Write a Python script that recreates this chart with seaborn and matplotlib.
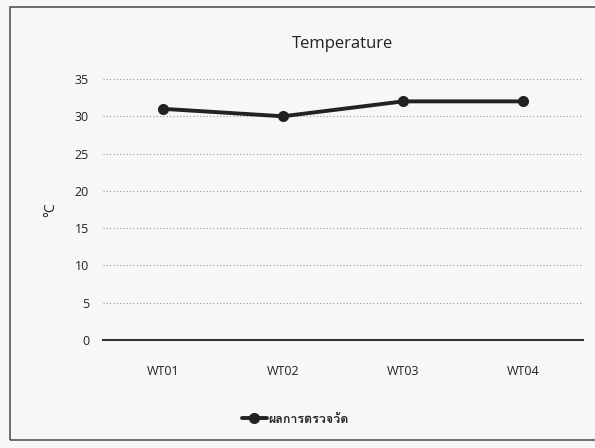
import numpy as np
import pandas as pd
import matplotlib
matplotlib.use('Agg')
import matplotlib.pyplot as plt
import seaborn as sns
from matplotlib import font_manager
from matplotlib.ft2font import FT2Font
from matplotlib.patches import Rectangle

# 数据
stations = ['WT01', 'WT02', 'WT03', 'WT04']
temps = [31, 30, 32, 32]
series_name = 'ผลการตรวจวัด'
title = 'Temperature'
y_label = '°C'

df = pd.DataFrame({'station': stations, 'temp': temps})

sns.set_theme(style='white')

# 找一个有泰文字形的字体
thai_family = None
for f in font_manager.fontManager.ttflist:
    try:
        if 0x0E1C in FT2Font(f.fname).get_charmap():
            thai_family = f.name
            break
    except Exception:
        pass
families = ['Open Sans', 'DejaVu Sans']
if thai_family:
    families = ['Open Sans', thai_family, 'DejaVu Sans']
plt.rcParams['font.family'] = families

bg = '#f5f7f8'
fig = plt.figure(figsize=(5.95, 4.48), dpi=100)
fig.patch.set_facecolor(bg)
ax = fig.add_axes([103 / 595, 1 - 340 / 448, 480 / 595, 261 / 448])
ax.set_facecolor(bg)

sns.lineplot(data=df, x='station', y='temp', ax=ax, color='#222222', linewidth=2.8,
             marker='o', markersize=8, markeredgewidth=0, label=series_name, sort=False)

ax.set_ylim(0, 35)
ax.set_xlim(-0.5, 3.5)
ax.set_yticks(range(0, 36, 5))
ax.yaxis.grid(True, linestyle=(0, (1, 2)), color='#999999', linewidth=0.8)
ax.xaxis.grid(False)
for s in ['top', 'right', 'left']:
    ax.spines[s].set_visible(False)
ax.spines['bottom'].set_color('#333333')
ax.spines['bottom'].set_linewidth(1.5)
ax.tick_params(axis='both', length=0, labelsize=9, colors='#222222')
ax.tick_params(axis='x', pad=18)
ax.tick_params(axis='y', pad=10)
ax.set_xlabel('')
ax.set_ylabel(y_label, fontsize=10, color='#222222', labelpad=12)
ax.set_title(title, fontsize=12, color='#222222', pad=22)

leg = ax.legend(loc='upper center', bbox_to_anchor=(0.4, -0.235), frameon=False,
                prop={'size': 9, 'weight': 'bold'}, handlelength=2.0, handletextpad=0.1)

# 外框
fig.add_artist(Rectangle((10 / 595, 8 / 448), 600 / 595, 433 / 448, transform=fig.transFigure,
                         fill=False, edgecolor='#555555', linewidth=1.2))

fig.savefig('out.png', dpi=100, facecolor=bg)
